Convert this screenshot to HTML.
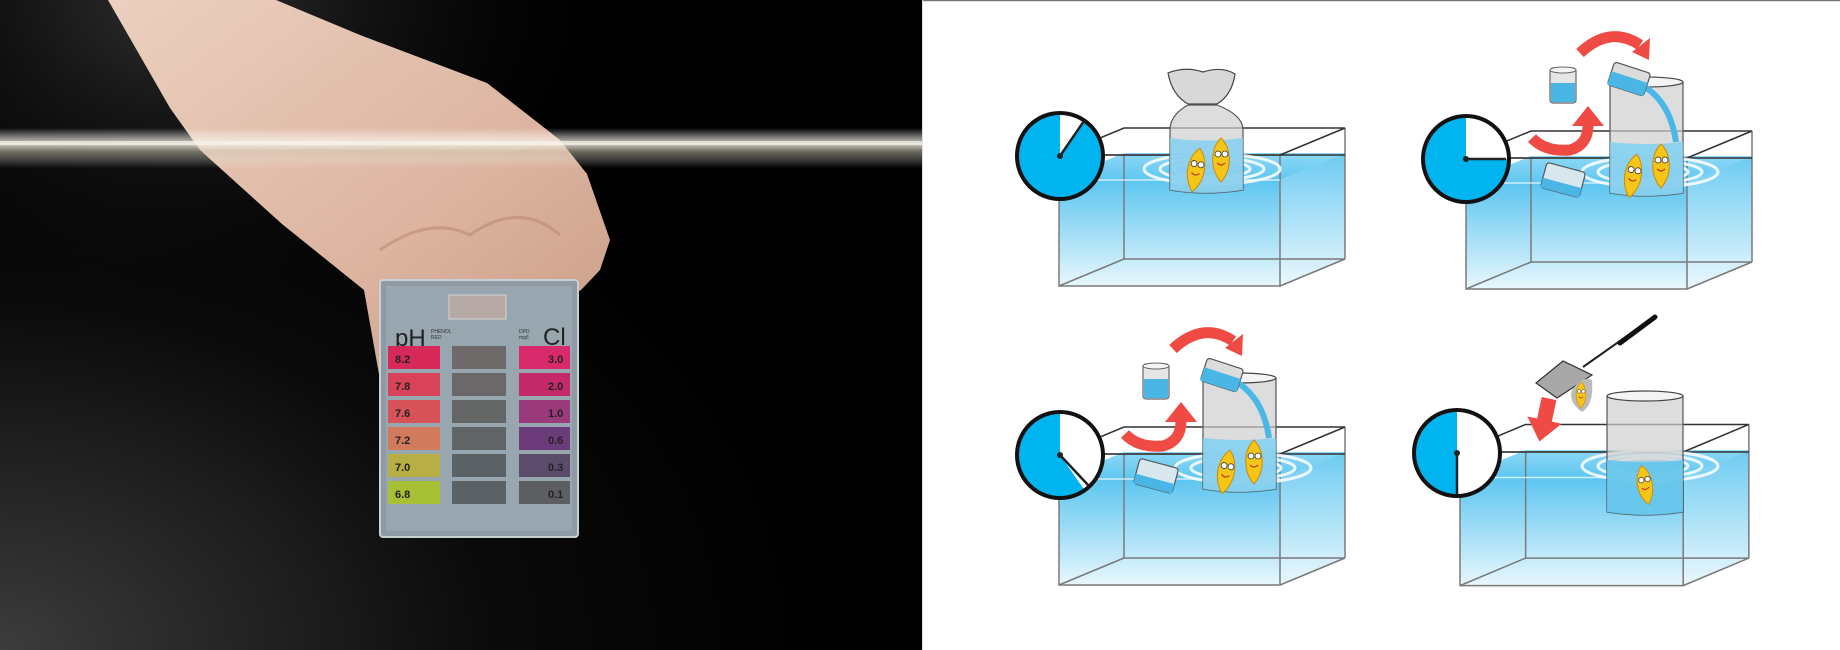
<!DOCTYPE html>
<html><head><meta charset="utf-8"><style>
html,body{margin:0;padding:0;width:1840px;height:650px;overflow:hidden;background:#fff;font-family:"Liberation Sans",sans-serif}
</style></head><body>
<svg width="1840" height="650" viewBox="0 0 1840 650" xmlns="http://www.w3.org/2000/svg">
<defs>
<radialGradient id="bgl" cx="0" cy="1" r="0.9">
<stop offset="0" stop-color="#3c3c3c"/><stop offset="0.6" stop-color="#0a0a0a"/><stop offset="1" stop-color="#000"/></radialGradient>
<radialGradient id="bgt" cx="0.2" cy="0" r="0.5">
<stop offset="0" stop-color="#555" stop-opacity="0.6"/><stop offset="1" stop-color="#000" stop-opacity="0"/></radialGradient>
<linearGradient id="skin" x1="0" y1="0" x2="1" y2="1">
<stop offset="0" stop-color="#ecd0c0"/><stop offset="0.6" stop-color="#dcb4a0"/><stop offset="1" stop-color="#c99c86"/></linearGradient>
<linearGradient id="wline" x1="0" y1="0" x2="0" y2="1">
<stop offset="0" stop-color="#fff" stop-opacity="0"/><stop offset="0.4" stop-color="#f4f2e6" stop-opacity="0.85"/><stop offset="0.6" stop-color="#cfcab4" stop-opacity="0.5"/><stop offset="1" stop-color="#fff" stop-opacity="0"/></linearGradient>
<linearGradient id="wat" x1="0" y1="0" x2="0" y2="1">
<stop offset="0" stop-color="#5cc5f0"/><stop offset="1" stop-color="#e8f7fd"/></linearGradient>
<linearGradient id="wtop" x1="0" y1="0" x2="0" y2="1">
<stop offset="0" stop-color="#8ed8f6"/><stop offset="1" stop-color="#5ec6f0"/></linearGradient>
<g id="tank">
<polygon points="0,25 221,25 286,-2 65,-2" fill="url(#wtop)"/>
<polygon points="0,25 221,25 221,131 0,131" fill="url(#wat)"/>
<polygon points="221,25 286,-2 286,104 221,131" fill="url(#wat)" opacity="0.9"/>
<g fill="none" stroke="#7a7a7a" stroke-width="1.5">
<rect x="0" y="0" width="221" height="131"/>
<polyline points="65,0 65,104 286,104"/>
<line x1="0" y1="131" x2="65" y2="104"/>
<line x1="221" y1="131" x2="286" y2="104"/>
<line x1="286" y1="-27" x2="286" y2="104"/>
</g>
<g fill="none" stroke="#333" stroke-width="1.5">
<polyline points="0,0 65,-27 286,-27 221,0"/>
<line x1="0" y1="0" x2="286" y2="0"/>
</g>
<line x1="0" y1="25" x2="221" y2="25" stroke="#fff" stroke-width="1.5" opacity="0.7"/>
</g>
<g id="ripple" fill="none" stroke="#fff" stroke-width="3" opacity="0.85">
<ellipse cx="0" cy="0" rx="68" ry="15"/><ellipse cx="0" cy="0" rx="52" ry="11"/><ellipse cx="0" cy="0" rx="38" ry="8"/>
</g>
<g id="fish">
<path d="M0,-22 C10,-12 12,8 0,22 C-12,8 -10,-12 0,-22Z" fill="#f5c518" stroke="#d08a00" stroke-width="1"/>
<circle cx="-3" cy="-6" r="3" fill="#fff" stroke="#333" stroke-width="0.8"/><circle cx="4" cy="-6" r="3" fill="#fff" stroke="#333" stroke-width="0.8"/>
<path d="M-4,3 Q0,7 4,3" stroke="#c0392b" fill="none" stroke-width="1.2"/>
</g>
</defs>

<!-- LEFT PHOTO -->
<rect x="0" y="0" width="922" height="650" fill="url(#bgl)"/>
<rect x="0" y="0" width="922" height="650" fill="url(#bgt)"/>
<path d="M108,0 L276,0 L360,35 L487,83 L560,140 L587,174 L610,240 L600,270 L581,290 L560,300 L380,380 L364,290 L282,224 L200,150 L170,108 Z" fill="url(#skin)"/>
<path d="M380,250 Q430,215 470,235 Q520,200 560,235" fill="none" stroke="#b58068" stroke-width="3" opacity="0.5"/>
<rect x="0" y="128" width="922" height="40" fill="url(#wline)"/>
<rect x="0" y="141" width="922" height="4" fill="#f6f4ea" opacity="0.7"/>
<!-- card -->
<rect x="380" y="280" width="198" height="257" rx="3" fill="#8e9ba4" stroke="#c9d0d4" stroke-width="2"/>
<rect x="386" y="286" width="186" height="245" fill="#98a6af"/>
<rect x="449" y="295" width="57" height="24" fill="#b7a9a6" stroke="#d9d4d0"/>
<text x="395" y="346" font-size="24" fill="#222">pH</text>
<text x="431" y="333" font-size="5" fill="#333">PHENOL</text><text x="431" y="339" font-size="5" fill="#333">RED</text>
<text x="519" y="333" font-size="5" fill="#333">DPD</text><text x="519" y="339" font-size="5" fill="#333">mg/l</text>
<text x="543" y="345" font-size="24" fill="#222">Cl</text>
<g font-size="11" font-weight="bold" fill="#222">
<rect x="388" y="346" width="52" height="23" fill="#d6295a"/><text x="395" y="363">8.2</text>
<rect x="388" y="373" width="52" height="23" fill="#d8435a"/><text x="395" y="390">7.8</text>
<rect x="388" y="400" width="52" height="23" fill="#d8525a"/><text x="395" y="417">7.6</text>
<rect x="388" y="427" width="52" height="23" fill="#d27a5c"/><text x="395" y="444">7.2</text>
<rect x="388" y="454" width="52" height="23" fill="#b7ae45"/><text x="395" y="471">7.0</text>
<rect x="388" y="481" width="52" height="23" fill="#a8c034"/><text x="395" y="498">6.8</text>
<rect x="452" y="346" width="54" height="23" fill="#6e6a6a"/>
<rect x="452" y="373" width="54" height="23" fill="#6a6868"/>
<rect x="452" y="400" width="54" height="23" fill="#646666"/>
<rect x="452" y="427" width="54" height="23" fill="#606464"/>
<rect x="452" y="454" width="54" height="23" fill="#5a6266"/>
<rect x="452" y="481" width="54" height="23" fill="#5a6266"/>
<rect x="519" y="346" width="51" height="23" fill="#d82a6a"/><text x="548" y="363">3.0</text>
<rect x="519" y="373" width="51" height="23" fill="#c42a6a"/><text x="548" y="390">2.0</text>
<rect x="519" y="400" width="51" height="23" fill="#9a3a7a"/><text x="548" y="417">1.0</text>
<rect x="519" y="427" width="51" height="23" fill="#6c3c7a"/><text x="548" y="444">0.6</text>
<rect x="519" y="454" width="51" height="23" fill="#5c4c6c"/><text x="548" y="471">0.3</text>
<rect x="519" y="481" width="51" height="23" fill="#5c5e62"/><text x="548" y="498">0.1</text>
</g>

<!-- RIGHT PANEL -->
<rect x="922" y="0" width="918" height="650" fill="#fff"/>
<line x1="922" y1="0.5" x2="1840" y2="0.5" stroke="#777" stroke-width="1.5"/>
<line x1="922.5" y1="0" x2="922.5" y2="650" stroke="#ddd" stroke-width="1"/>

<!-- Panel 1 -->
<use href="#tank" transform="translate(1059,155)"/>
<use href="#ripple" transform="translate(1212,169)"/>
<path d="M1168,73 Q1185,66 1203,72 Q1222,66 1235,74 Q1232,95 1217,104 L1188,104 Q1172,95 1168,73Z" fill="#d8d8d8" stroke="#444" stroke-width="1.2"/>
<path d="M1188,105 L1217,105 Q1243,115 1243,130 L1243,190 Q1206,196 1170,190 L1170,130 Q1170,115 1188,105Z" fill="#cfcfcf" fill-opacity="0.7" stroke="#555" stroke-width="1.2"/>
<path d="M1170,138 Q1206,143 1243,138 L1243,190 Q1206,196 1170,190Z" fill="#7fd0f2" opacity="0.8"/>
<use href="#fish" transform="translate(1196,170) rotate(10)"/>
<use href="#fish" transform="translate(1221,160)"/>
<g transform="translate(1060,156)">
<circle r="43" fill="#00b4ef"/>
<path d="M0,0 L0,-43 A43,43 0 0,1 24.7,-35.2Z" fill="#fff"/>
<line x1="0" y1="0" x2="24" y2="-35" stroke="#222" stroke-width="2.5"/>
<circle r="43" fill="none" stroke="#111" stroke-width="4"/><circle r="3" fill="#222"/>
</g>

<!-- Panel 2 -->
<g id="p2">
<use href="#tank" transform="translate(1466,158)"/>
<use href="#ripple" transform="translate(1650,172)"/>
<path d="M1610,82 Q1646,76 1683,82 L1683,193 Q1646,199 1610,193Z" fill="#cfcfcf" fill-opacity="0.7" stroke="#555" stroke-width="1.2"/>
<ellipse cx="1646" cy="82" rx="37" ry="5" fill="#f4f4f4" stroke="#444" stroke-width="1.2"/>
<path d="M1610,142 Q1646,146 1683,142 L1683,193 Q1646,199 1610,193Z" fill="#7fd0f2" opacity="0.85"/>
<use href="#fish" transform="translate(1633,176) rotate(10)"/>
<use href="#fish" transform="translate(1661,166)"/>
<path d="M1640,84 Q1670,100 1676,142" fill="none" stroke="#4ab8e6" stroke-width="6"/>
<g transform="translate(1629,79) rotate(18)">
<rect x="-19" y="-12" width="38" height="24" rx="3" fill="#dcdcdc" stroke="#555" stroke-width="1.2"/>
<rect x="-19" y="-2" width="38" height="14" fill="#49b6e6"/>
</g>
<rect x="1550" y="68" width="26" height="35" rx="3" fill="#e6e6e6" stroke="#666" stroke-width="1.2"/>
<rect x="1551" y="83" width="24" height="19" fill="#49b6e6"/>
<ellipse cx="1563" cy="70" rx="13" ry="3" fill="#f4f4f4" stroke="#666"/>
<g transform="translate(1563,180) rotate(15)">
<rect x="-20" y="-13" width="40" height="26" rx="3" fill="#d8e6ee" stroke="#555" stroke-width="1.2"/>
<rect x="-20" y="3" width="40" height="10" fill="#49b6e6"/>
</g>
<path d="M1580,53 Q1610,25 1640,45" fill="none" stroke="#f04a45" stroke-width="11"/>
<polygon points="1632,52 1650,38 1649,60" fill="#f04a45"/>
<path d="M1532,138 Q1545,152 1570,150 Q1588,145 1588,125" fill="none" stroke="#f04a45" stroke-width="11"/>
<polygon points="1572,126 1604,126 1588,106" fill="#f04a45"/>
</g>

<!-- Panel 3 -->
<use href="#p2" transform="translate(-407,296)"/>
<g transform="translate(1060,455)">
<circle r="43" fill="#00b4ef"/>
<path d="M0,0 L0,-43 A43,43 0 0,1 24.7,35.2Z" fill="#fff"/>
<line x1="0" y1="0" x2="28" y2="30" stroke="#222" stroke-width="2.5"/>
<circle r="43" fill="none" stroke="#111" stroke-width="4"/><circle r="3" fill="#222"/>
</g>
<g transform="translate(1466,159)">
<circle r="43" fill="#00b4ef"/>
<path d="M0,0 L0,-43 A43,43 0 0,1 43,0Z" fill="#fff"/>
<line x1="0" y1="0" x2="40" y2="0" stroke="#222" stroke-width="2.5"/>
<circle r="43" fill="none" stroke="#111" stroke-width="4"/><circle r="3" fill="#222"/>
</g>

<!-- Panel 4 -->
<use href="#tank" transform="translate(1460,452) scale(1.01,1.02)"/>
<use href="#ripple" transform="translate(1650,466)"/>
<path d="M1607,396 Q1645,390 1683,396 L1683,512 Q1645,518 1607,512Z" fill="#cfcfcf" fill-opacity="0.7" stroke="#555" stroke-width="1.2"/>
<ellipse cx="1645" cy="396" rx="38" ry="5" fill="#f4f4f4" stroke="#444" stroke-width="1.2"/>
<path d="M1607,460 Q1645,464 1683,460 L1683,512 Q1645,518 1607,512Z" fill="#5cc5f0" opacity="0.85"/>
<use href="#fish" transform="translate(1645,485) rotate(-10) scale(0.9)"/>
<line x1="1583" y1="367" x2="1654" y2="317" stroke="#222" stroke-width="2"/>
<line x1="1620" y1="343" x2="1655" y2="317" stroke="#111" stroke-width="5" stroke-linecap="round"/>
<polygon points="1536,383 1563,361 1592,375 1557,398" fill="#a8a8a8" stroke="#333" stroke-width="1.2"/>
<path d="M1572,390 Q1583,375 1592,380 Q1594,405 1582,412 Q1568,402 1572,390Z" fill="#bbb"/>
<use href="#fish" transform="translate(1581,395) scale(0.6)"/>
<polygon points="1537,398 1552,398 1552,420 1562,420 1544,442 1527,420 1537,420" fill="#f04a45" transform="rotate(12 1544 420)"/>
<g transform="translate(1457,453)">
<circle r="43" fill="#00b4ef"/>
<path d="M0,0 L0,-43 A43,43 0 0,1 0,43Z" fill="#fff"/>
<line x1="0" y1="0" x2="0" y2="41" stroke="#222" stroke-width="2.5"/>
<circle r="43" fill="none" stroke="#111" stroke-width="4"/><circle r="3" fill="#222"/>
</g>
</svg>
</body></html>
